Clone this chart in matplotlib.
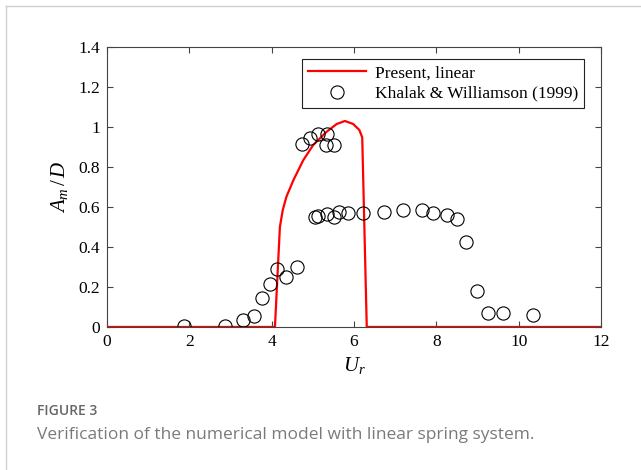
# Amplitude response vs reduced velocity, linear spring system check

import numpy as np
import matplotlib.pyplot as plt
from matplotlib.lines import Line2D

plt.rcParams['font.family'] = ['Liberation Serif', 'DejaVu Serif']
plt.rcParams['mathtext.fontset'] = 'custom'
plt.rcParams['mathtext.rm'] = 'Liberation Serif'
plt.rcParams['mathtext.it'] = 'Liberation Serif:italic'

# present model (linear spring)
ur_model = [0.0, 4.08, 4.20, 4.27, 4.36, 4.53, 4.77, 5.01, 5.34, 5.58, 5.78,
            5.98, 6.13, 6.20, 6.31, 12.0]
am_model = [0.0, 0.0, 0.50, 0.585, 0.652, 0.735, 0.835, 0.91, 0.977, 1.015,
            1.03, 1.015, 0.985, 0.948, 0.0, 0.0]

# Khalak & Williamson (1999) experiment
ur_exp = [1.88, 2.87, 3.31, 3.58, 3.77, 3.97, 4.12, 4.35, 4.61,
          4.74, 4.93, 5.12, 5.35, 5.33, 5.51,
          5.05, 5.13, 5.34, 5.51, 5.63, 5.85, 6.21,
          6.74, 7.19, 7.65, 7.92, 8.26, 8.50, 8.72, 8.99, 9.25, 9.63, 10.36]
am_exp = [0.005, 0.005, 0.033, 0.055, 0.147, 0.213, 0.288, 0.252, 0.302,
          0.915, 0.943, 0.967, 0.963, 0.908, 0.908,
          0.552, 0.553, 0.565, 0.548, 0.577, 0.572, 0.57,
          0.573, 0.583, 0.587, 0.57, 0.56, 0.538, 0.423, 0.18, 0.072, 0.068, 0.062]

xticks = [0, 2, 4, 6, 8, 10, 12]
yticks = [0, 0.2, 0.4, 0.6, 0.8, 1.0, 1.2, 1.4]
ylabels = ['0', '0.2', '0.4', '0.6', '0.8', '1', '1.2', '1.4']

fig = plt.figure(figsize=(6.41, 4.70), dpi=100)
ax = fig.add_axes([0.1669, 0.3043, 0.7707, 0.5957])

ax.plot(ur_model, am_model, color='#ff0000', lw=1.6, label='Present, linear')
ax.plot(ur_exp, am_exp, 'o', mfc='none', mec='black', mew=0.8, ms=9.5,
        label='Khalak & Williamson (1999)')

ax.set_xlim(0, 12)
ax.set_ylim(0, 1.4)
ax.set_xticks(xticks)
ax.set_yticks(yticks)
ax.set_yticklabels(ylabels)
ax.tick_params(direction='in', top=True, right=True, length=4, width=0.8,
               color='#444444', labelsize=12.5, pad=5)
for s in ax.spines.values():
    s.set_color('#444444')
    s.set_linewidth(0.8)

ax.set_xlabel('$U_r$', fontsize=15, labelpad=4)
ax.set_ylabel('$A_m\\,/\\,D$', fontsize=15, labelpad=6)

leg = ax.legend(loc='upper right', bbox_to_anchor=(0.9656, 0.957),
                borderaxespad=0, fancybox=False, framealpha=1,
                fontsize=12.5, handlelength=3.35, borderpad=0.35,
                labelspacing=0.25, handletextpad=0.5)
leg.get_frame().set_edgecolor('#222222')
leg.get_frame().set_linewidth(0.8)

# card border (left and top)
fig.add_artist(Line2D([6 / 641, 6 / 641], [0, 1 - 6 / 470],
                      transform=fig.transFigure, color='#d0d0d0', lw=1))
fig.add_artist(Line2D([6 / 641, 1], [1 - 6 / 470, 1 - 6 / 470],
                      transform=fig.transFigure, color='#d0d0d0', lw=1))

fig.text(37 / 641, 1 - 415 / 470, 'FIGURE 3', family='Open Sans',
         fontweight='semibold', fontsize=10, color='#666666')
fig.text(37 / 641, 1 - 439 / 470,
         'Verification of the numerical model with linear spring system.',
         family='Open Sans', fontsize=12.5, color='#7a7a7a')

fig.savefig('out.png', dpi=100)
